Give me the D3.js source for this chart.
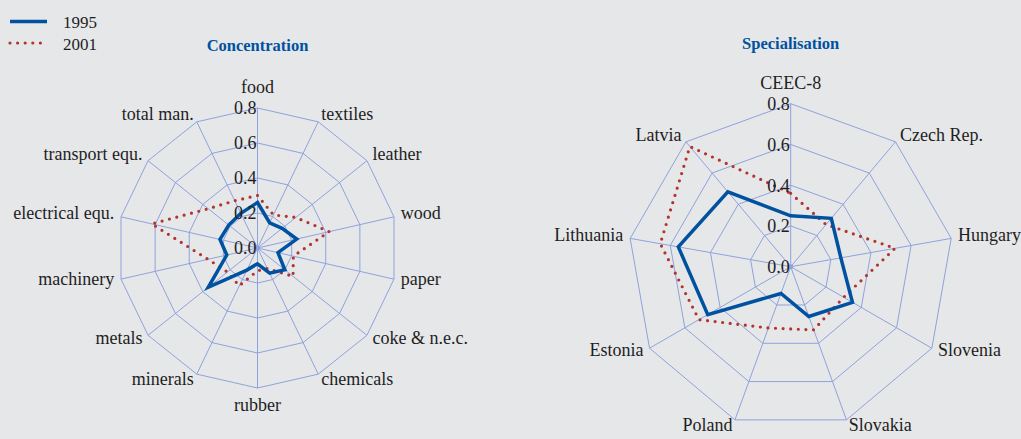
<!DOCTYPE html>
<html>
<head>
<meta charset="utf-8">
<script src="https://cdn.jsdelivr.net/npm/d3@7"></script>
<style>
  body { margin: 0; background: #e6e7e9; }
  svg { display: block; }
  text { font-family: "Liberation Serif", "Times New Roman", serif; fill: #1e1e1e; }
</style>
</head>
<body>
<script>
const width = 1021;
const height = 439;

// 数据
const concCategories = ["food", "textiles", "leather", "wood", "paper", "coke & n.e.c.", "chemicals",
    "rubber", "minerals", "metals", "machinery", "electrical equ.", "transport equ.", "total man."];
const conc1995 = [0.26, 0.16, 0.18, 0.23, 0.12, 0.20, 0.16, 0.09, 0.14, 0.36, 0.18, 0.22, 0.21, 0.22];
const conc2001 = [0.30, 0.21, 0.28, 0.42, 0.21, 0.26, 0.13, 0.13, 0.24, 0.22, 0.29, 0.62, 0.36, 0.30];

const specCategories = ["CEEC-8", "Czech Rep.", "Hungary", "Slovenia", "Slovakia", "Poland",
    "Estonia", "Lithuania", "Latvia"];
const spec1995 = [0.25, 0.31, 0.25, 0.35, 0.26, 0.14, 0.47, 0.56, 0.48];
const spec2001 = [0.36, 0.27, 0.52, 0.30, 0.33, 0.32, 0.52, 0.65, 0.77];

const ticks = [0.0, 0.2, 0.4, 0.6, 0.8];
const seriesNames = ["1995", "2001"];

const blue = "#0052a0";
const red = "#b3342e";
const gridColor = "#8fa2dc";

let svg = d3.select("body").append("svg")
    .attr("width", width)
    .attr("height", height);

// 图例
let legend = svg.append("g");
legend.append("line")
    .attr("x1", 10).attr("x2", 47).attr("y1", 21.5).attr("y2", 21.5)
    .attr("stroke", blue).attr("stroke-width", 3.5);
legend.append("line")
    .attr("x1", 10).attr("x2", 47).attr("y1", 43).attr("y2", 43)
    .attr("stroke", red).attr("stroke-width", 3.2)
    .attr("stroke-linecap", "round").attr("stroke-dasharray", "0 7.6");
legend.selectAll("text.leg")
    .data(seriesNames)
    .enter()
    .append("text")
    .attr("x", 63)
    .attr("y", (d, i) => 28 + i * 21.5)
    .attr("font-size", 17)
    .text(d => d);

function radar(opts) {
    let g = svg.append("g")
        .attr("transform", `translate(${opts.cx},${opts.cy})`);
    let n = opts.categories.length;

    let r = d3.scaleLinear().domain([0, 0.8]).range([0, opts.radius]);
    let angle = d3.scaleLinear().domain([0, n]).range([0, 2 * Math.PI]);

    // 网格
    ticks.slice(1).forEach(t => {
        let pts = d3.range(n).map(i => [
            r(t) * Math.sin(angle(i)), -r(t) * Math.cos(angle(i))
        ]);
        g.append("polygon")
            .attr("points", pts.map(p => p.join(",")).join(" "))
            .attr("fill", "none")
            .attr("stroke", gridColor)
            .attr("stroke-width", 1);
    });
    g.selectAll("line.spoke")
        .data(d3.range(n))
        .enter()
        .append("line")
        .attr("x1", 0).attr("y1", 0)
        .attr("x2", i => r(0.8) * Math.sin(angle(i)))
        .attr("y2", i => -r(0.8) * Math.cos(angle(i)))
        .attr("stroke", gridColor)
        .attr("stroke-width", 1);
    g.append("circle").attr("r", 2.5).attr("fill", gridColor);

    // 分类标签
    g.selectAll("text.cat")
        .data(opts.categories)
        .enter()
        .append("text")
        .attr("font-size", 18)
        .attr("dominant-baseline", "middle")
        .attr("text-anchor", (d, i) => {
            let s = Math.sin(angle(i));
            return Math.abs(s) < 0.1 ? "middle" : (s > 0 ? "start" : "end");
        })
        .attr("x", (d, i) => (r(0.8) + 7) * Math.sin(angle(i)))
        .attr("y", (d, i) => {
            let s = Math.sin(angle(i)), c = Math.cos(angle(i));
            let y = -(r(0.8) + 7) * c;
            if (Math.abs(s) < 0.1) y -= c * 12;
            return y;
        })
        .text(d => d);

    // 线条
    let line = d3.lineRadial()
        .angle((d, i) => angle(i))
        .radius(d => r(d))
        .curve(d3.curveLinearClosed);

    g.append("path")
        .attr("d", line(opts.s2001))
        .attr("fill", "none")
        .attr("stroke", red)
        .attr("stroke-width", 3.2)
        .attr("stroke-linecap", "round")
        .attr("stroke-dasharray", "0 7.6");
    g.append("path")
        .attr("d", line(opts.s1995))
        .attr("fill", "none")
        .attr("stroke", blue)
        .attr("stroke-width", 3.5)
        .attr("stroke-linejoin", "miter");

    // 刻度
    g.selectAll("text.tick")
        .data(ticks)
        .enter()
        .append("text")
        .attr("x", -1)
        .attr("y", d => -r(d))
        .attr("dy", "0.35em")
        .attr("text-anchor", "end")
        .attr("font-size", 18)
        .text(d => d.toFixed(1));

    svg.append("text")
        .attr("x", opts.cx)
        .attr("y", opts.titleY)
        .attr("text-anchor", "middle")
        .attr("font-size", 16.5)
        .attr("font-weight", "bold")
        .style("fill", blue)
        .text(opts.title);
}

radar({cx: 257.5, cy: 248, radius: 140, categories: concCategories,
    s1995: conc1995, s2001: conc2001, title: "Concentration", titleY: 51});
radar({cx: 790.7, cy: 266.7, radius: 163, categories: specCategories,
    s1995: spec1995, s2001: spec2001, title: "Specialisation", titleY: 49});
</script>
</body>
</html>
